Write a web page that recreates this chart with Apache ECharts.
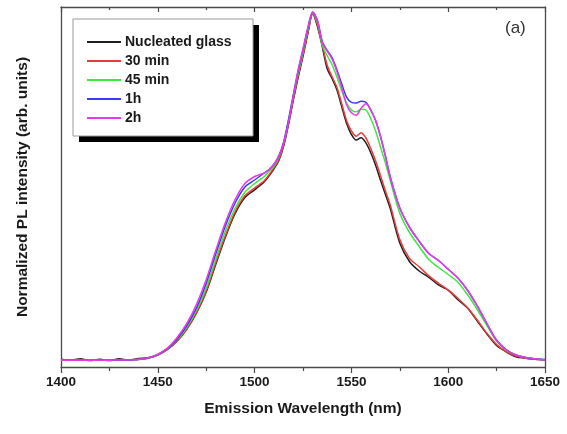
<!DOCTYPE html>
<html>
<head>
<meta charset="utf-8">
<script src="https://cdn.jsdelivr.net/npm/echarts@6/dist/echarts.min.js"></script>
<style>
  html, body { margin: 0; padding: 0; background: #ffffff; }
  #chart { width: 567px; height: 434px; }
</style>
</head>
<body>
<div id="chart"></div>
<script>
// Emission wavelength sampling (nm)
const wavelength = [
  1400, 1405, 1410, 1415, 1420, 1425, 1430, 1435, 1440, 1445,
  1450, 1455, 1460, 1465, 1470, 1475, 1480, 1485, 1490, 1495, 1500,
  1502.5, 1505, 1507.5, 1510, 1512.5, 1515, 1517.5, 1520, 1522.5, 1525,
  1527.5, 1530, 1532.5, 1535, 1537.5, 1540, 1542.5, 1545, 1547.5, 1550,
  1552.5, 1555, 1557.5, 1560, 1562.5, 1565, 1567.5, 1570,
  1575, 1580, 1585, 1590, 1595, 1600, 1605, 1610, 1615, 1620, 1625,
  1630, 1635, 1640, 1645, 1650
];

// Normalized PL intensity for each heat treatment
const nucleatedGlass = [
  0.008, 0.005, 0.009, 0.004, 0.008, 0.004, 0.009, 0.006, 0.010, 0.012,
  0.020, 0.036, 0.060, 0.094, 0.140, 0.200, 0.280, 0.358, 0.425, 0.470, 0.492,
  0.503, 0.515, 0.532, 0.552, 0.575, 0.617, 0.678, 0.748, 0.813, 0.873,
  0.938, 0.995, 0.958, 0.900, 0.838, 0.810, 0.778, 0.730, 0.682, 0.650,
  0.634, 0.641, 0.626, 0.598, 0.562, 0.520, 0.480, 0.440,
  0.340, 0.287, 0.260, 0.242, 0.220, 0.205, 0.178, 0.154, 0.117, 0.080, 0.047,
  0.029, 0.015, 0.011, 0.008, 0.007
];
const min30 = [
  0.006, 0.005, 0.007, 0.005, 0.006, 0.005, 0.007, 0.005, 0.008, 0.011,
  0.020, 0.036, 0.060, 0.095, 0.142, 0.203, 0.285, 0.362, 0.430, 0.475, 0.497,
  0.507, 0.518, 0.535, 0.555, 0.578, 0.620, 0.682, 0.752, 0.818, 0.878,
  0.942, 0.995, 0.962, 0.905, 0.848, 0.815, 0.785, 0.738, 0.690, 0.660,
  0.645, 0.655, 0.640, 0.610, 0.575, 0.533, 0.490, 0.450,
  0.350, 0.296, 0.272, 0.246, 0.225, 0.206, 0.182, 0.155, 0.120, 0.082, 0.050,
  0.029, 0.017, 0.011, 0.008, 0.006
];
const min45 = [
  0.005, 0.005, 0.005, 0.005, 0.005, 0.005, 0.006, 0.006, 0.007, 0.011,
  0.021, 0.038, 0.064, 0.100, 0.148, 0.212, 0.295, 0.375, 0.440, 0.485, 0.510,
  0.520, 0.530, 0.545, 0.560, 0.585, 0.628, 0.690, 0.760, 0.825, 0.885,
  0.948, 0.998, 0.970, 0.905, 0.875, 0.850, 0.815, 0.775, 0.740, 0.720,
  0.715, 0.722, 0.720, 0.695, 0.660, 0.615, 0.570, 0.520,
  0.425, 0.370, 0.330, 0.293, 0.270, 0.250, 0.228, 0.192, 0.150, 0.104, 0.060,
  0.034, 0.020, 0.013, 0.009, 0.006
];
const h1 = [
  0.005, 0.005, 0.005, 0.005, 0.005, 0.005, 0.006, 0.006, 0.007, 0.011,
  0.022, 0.039, 0.066, 0.104, 0.155, 0.225, 0.310, 0.390, 0.455, 0.500, 0.520,
  0.530, 0.540, 0.550, 0.565, 0.588, 0.628, 0.692, 0.763, 0.832, 0.892,
  0.953, 1.000, 0.975, 0.915, 0.890, 0.870, 0.835, 0.795, 0.757, 0.742,
  0.740, 0.745, 0.742, 0.720, 0.690, 0.645, 0.590, 0.530,
  0.440, 0.385, 0.345, 0.310, 0.290, 0.265, 0.240, 0.205, 0.160, 0.110, 0.062,
  0.035, 0.020, 0.013, 0.009, 0.006
];
const h2 = [
  0.005, 0.005, 0.005, 0.005, 0.005, 0.005, 0.006, 0.006, 0.007, 0.012,
  0.022, 0.040, 0.070, 0.110, 0.165, 0.235, 0.320, 0.400, 0.465, 0.510, 0.530,
  0.535, 0.540, 0.550, 0.565, 0.590, 0.625, 0.685, 0.760, 0.835, 0.895,
  0.955, 1.000, 0.975, 0.912, 0.888, 0.866, 0.830, 0.785, 0.735, 0.712,
  0.705, 0.725, 0.738, 0.720, 0.690, 0.645, 0.590, 0.530,
  0.440, 0.385, 0.345, 0.310, 0.290, 0.265, 0.240, 0.205, 0.160, 0.110, 0.062,
  0.035, 0.020, 0.013, 0.009, 0.006
];

const seriesNames = ['Nucleated glass', '30 min', '45 min', '1h', '2h'];
const seriesValues = [nucleatedGlass, min30, min45, h1, h2];
const seriesColors = ['#1e1e1e', '#f03a3a', '#3de83d', '#3a3af0', '#e83ae8'];

// x-axis tick settings
const xMin = 1400, xMax = 1650, xStep = 50;
const yMin = -0.0143, yMax = 1.0143;

const FONT = '"Liberation Sans", Arial, sans-serif';
const AXIS_COLOR = '#4a4a4a';

const chart = echarts.init(document.getElementById('chart'), null, { renderer: 'canvas' });

const pairs = vals => wavelength.map((w, i) => [w, vals[i]]);

const baseX = {
  type: 'value', min: xMin, max: xMax, interval: xStep,
  splitLine: { show: false },
  axisLine: { show: true, onZero: false, lineStyle: { color: AXIS_COLOR, width: 1.3 } },
  minorTick: { show: true, splitNumber: 2, length: 4, lineStyle: { color: AXIS_COLOR, width: 1.2 } },
  minorSplitLine: { show: false }
};

// legend frame with its drop shadow
const legendBox = { x: 73, y: 19, w: 180, h: 117, off: 6 };

chart.setOption({
  animation: false,
  backgroundColor: '#ffffff',
  grid: { left: 61, right: 22, top: 7, bottom: 67, containLabel: false },
  legend: {
    orient: 'vertical',
    left: legendBox.x, top: legendBox.y,
    data: seriesNames,
    icon: 'rect',
    itemWidth: 34, itemHeight: 2,
    itemGap: 5,
    padding: [16, 13, 11, 14],
    textStyle: { fontFamily: FONT, fontWeight: 'bold', fontSize: 14, color: '#1a1a1a', lineHeight: 14, padding: [0, 0, 0, -1] },
    z: 10
  },
  xAxis: [
    Object.assign({}, baseX, {
      position: 'bottom',
      axisTick: { show: true, inside: false, length: 6, lineStyle: { color: AXIS_COLOR, width: 1.2 } },
      axisLabel: { show: true, margin: 8, fontFamily: FONT, fontWeight: 'bold', fontSize: 13.5, color: '#1a1a1a',
                   formatter: v => String(v) },
      name: 'Emission Wavelength (nm)', nameLocation: 'middle', nameGap: 34,
      nameTextStyle: { fontFamily: FONT, fontWeight: 'bold', fontSize: 15.5, color: '#1a1a1a' }
    }),
    Object.assign({}, baseX, {
      position: 'top',
      axisTick: { show: true, inside: true, length: 5, lineStyle: { color: AXIS_COLOR, width: 1.2 } },
      minorTick: { show: true, splitNumber: 2, length: 3, lineStyle: { color: AXIS_COLOR, width: 1.2 } },
      axisLabel: { show: false }
    })
  ],
  yAxis: [
    {
      type: 'value', min: yMin, max: yMax, position: 'left',
      splitLine: { show: false },
      axisLine: { show: true, onZero: false, lineStyle: { color: AXIS_COLOR, width: 1.3 } },
      axisTick: { show: false }, axisLabel: { show: false },
      name: 'Normalized PL intensity (arb. units)', nameLocation: 'middle', nameGap: 30,
      nameTextStyle: { fontFamily: FONT, fontWeight: 'bold', fontSize: 15.5, color: '#1a1a1a' }
    },
    {
      type: 'value', min: yMin, max: yMax, position: 'right',
      splitLine: { show: false },
      axisLine: { show: true, onZero: false, lineStyle: { color: AXIS_COLOR, width: 1.3 } },
      axisTick: { show: false }, axisLabel: { show: false }
    }
  ],
  graphic: [
    { type: 'rect', z: 8,
      shape: { x: legendBox.x + legendBox.off, y: legendBox.y + legendBox.off, width: legendBox.w, height: legendBox.h },
      style: { fill: '#000000' } },
    { type: 'rect', z: 9,
      shape: { x: legendBox.x, y: legendBox.y, width: legendBox.w, height: legendBox.h },
      style: { fill: '#ffffff', stroke: '#9a9a9a', lineWidth: 1 } },
    { type: 'text', left: 505, top: 20,
      style: { text: '(a)', font: '17px ' + FONT, fill: '#333333' } }
  ],
  series: seriesNames.map((name, i) => ({
    name,
    type: 'line',
    xAxisIndex: 0, yAxisIndex: 0,
    data: pairs(seriesValues[i]),
    symbol: 'none',
    smooth: 0.3,
    color: seriesColors[i],
    lineStyle: { color: seriesColors[i], width: 1.5 },
    z: 2 + i
  }))
});
</script>
</body>
</html>
